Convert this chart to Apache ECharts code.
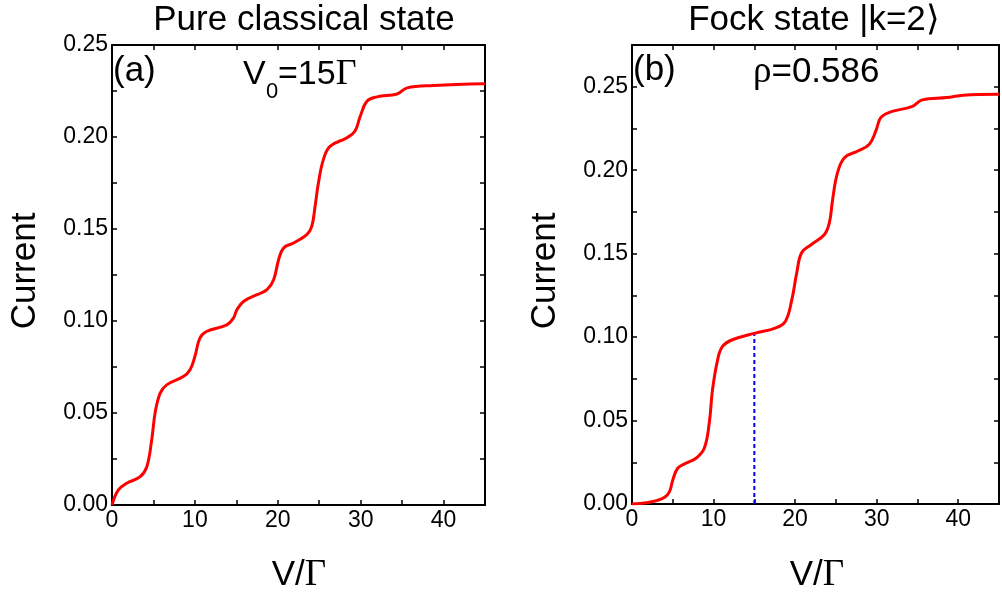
<!DOCTYPE html>
<html>
<head>
<meta charset="utf-8">
<script src="https://cdn.jsdelivr.net/npm/echarts@6/dist/echarts.min.js"></script>
<style>
  html, body { margin: 0; padding: 0; background: #fff; }
  #chart { width: 1002px; height: 595px; }
</style>
</head>
<body>
<div id="chart"></div>
<script>
// panel (a): pure classical state, V0 = 15 Gamma
var voltA = [0, 0.77, 1.77, 3.4, 4.2, 4.79, 5.2, 5.8, 6.6, 8.6, 9.4, 10.0, 10.6, 11.4, 13.85, 14.65, 15.06, 15.86, 17.5, 18.7, 19.5, 20.1, 20.7, 21.9, 23.5, 24.1, 24.5, 24.9, 25.5, 26.3, 28.3, 29.3, 29.95, 30.76, 31.97, 34.4, 35.6, 38.8, 45];
var currentA = [0, 0.0082, 0.0118, 0.0154, 0.0208, 0.0354, 0.05, 0.0607, 0.0653, 0.0698, 0.0734, 0.0807, 0.0907, 0.0943, 0.0979, 0.1016, 0.106, 0.1106, 0.1143, 0.117, 0.1224, 0.1333, 0.1397, 0.1424, 0.1469, 0.1514, 0.1623, 0.175, 0.1877, 0.1949, 0.1995, 0.2031, 0.2113, 0.2194, 0.2218, 0.2234, 0.2267, 0.228, 0.2289];

// panel (b): Fock state |k=2>, rho = 0.586
var voltB = [0, 1.78, 3.0, 4.0, 4.6, 5.0, 5.6, 6.6, 7.85, 8.86, 9.47, 9.87, 10.5, 11.1, 12.3, 15.1, 17.56, 18.8, 19.6, 20.2, 20.8, 22.0, 23.6, 24.2, 24.6, 25.2, 26.05, 27.7, 29.1, 29.9, 30.5, 31.7, 34.3, 35.6, 38.6, 40.6, 45];
var currentB = [0, 0.0008, 0.002, 0.004, 0.0074, 0.0144, 0.0214, 0.0244, 0.0274, 0.0334, 0.0484, 0.0684, 0.0864, 0.0944, 0.0984, 0.1024, 0.1054, 0.1094, 0.1224, 0.1385, 0.1505, 0.1555, 0.1615, 0.1685, 0.1825, 0.1985, 0.2075, 0.2115, 0.2155, 0.2235, 0.2315, 0.2349, 0.2381, 0.2421, 0.2435, 0.2449, 0.2455];

// blue dashed marker in panel (b)
var markerVolt = [15, 15];
var markerCurrent = [0, 0.102];

function zip(xs, ys) {
    return xs.map(function (x, i) { return [x, ys[i]]; });
}

var FONT = "'Liberation Sans', Arial, sans-serif";
var SERIF = "'Liberation Serif', 'Times New Roman', serif";

function xAx(grid, pos, showLabel) {
    return {
        gridIndex: grid, type: 'value', position: pos,
        min: 0, max: 45, interval: 5,
        axisLine: { onZero: false, lineStyle: { color: '#000', width: 2 } },
        axisTick: { inside: true, length: 5, lineStyle: { color: '#000', width: 1.5 } },
        axisLabel: {
            show: showLabel, color: '#000', fontSize: 23, fontFamily: FONT, margin: 4,
            formatter: function (v) { return Math.abs(v / 10 - Math.round(v / 10)) < 1e-6 ? String(Math.round(v)) : ''; }
        },
        splitLine: { show: false }
    };
}

function yAx(grid, pos, max, showLabel) {
    return {
        gridIndex: grid, type: 'value', position: pos,
        min: 0, max: max, interval: 0.025,
        axisLine: { onZero: false, lineStyle: { color: '#000', width: 2 } },
        axisTick: { inside: true, length: 5, lineStyle: { color: '#000', width: 1.5 } },
        axisLabel: {
            show: showLabel, color: '#000', fontSize: 23, fontFamily: FONT, margin: 4,
            formatter: function (v) { return Math.abs(v * 20 - Math.round(v * 20)) < 1e-6 ? v.toFixed(2) : ''; }
        },
        splitLine: { show: false }
    };
}

function label(text, x, y, size, align, extra) {
    var el = {
        type: 'text', x: x, y: y,
        style: {
            text: text, fill: '#000', font: size + 'px ' + FONT,
            textAlign: align || 'left', textVerticalAlign: 'middle',
            rich: {
                g: { fontFamily: SERIF, fontSize: size + 2, fill: '#000' },
                s: { fontFamily: FONT, fontSize: size, fill: '#000' }
            }
        }
    };
    if (extra) { for (var k in extra) el[k] = extra[k]; }
    return el;
}

var chart = echarts.init(document.getElementById('chart'));

var option = {
    backgroundColor: '#fff',
    animation: false,
    grid: [
        { left: 112, top: 45, width: 373, height: 460 },
        { left: 632, top: 45, width: 369, height: 459 }
    ],
    xAxis: [
        xAx(0, 'bottom', true),
        xAx(0, 'top', false),
        xAx(1, 'bottom', true),
        xAx(1, 'top', false)
    ],
    yAxis: [
        yAx(0, 'left', 0.25, true),
        yAx(0, 'right', 0.25, false),
        yAx(1, 'left', 0.275, true),
        yAx(1, 'right', 0.275, false)
    ],
    series: [
        {
            type: 'line', xAxisIndex: 0, yAxisIndex: 0,
            data: zip(voltA, currentA),
            showSymbol: false, smooth: 0.4,
            lineStyle: { color: '#ff0000', width: 3 }
        },
        {
            type: 'line', xAxisIndex: 2, yAxisIndex: 2,
            data: zip(markerVolt, markerCurrent),
            showSymbol: false,
            lineStyle: { color: '#0000ff', width: 2, type: [4, 3] }
        },
        {
            type: 'line', xAxisIndex: 2, yAxisIndex: 2,
            data: zip(voltB, currentB),
            showSymbol: false, smooth: 0.4,
            lineStyle: { color: '#ff0000', width: 3 }
        }
    ],
    graphic: [
        label('Pure classical state', 304, 20, 35, 'center'),
        label('Fock state |k=2\u27E9', 814, 20, 35, 'center'),
        label('Current', 25, 271, 35, 'center', { rotation: Math.PI / 2 }),
        label('Current', 545, 271, 35, 'center', { rotation: Math.PI / 2 }),
        label('{s|V/}{g|\u0393}', 299, 575, 35, 'center'),
        label('{s|V/}{g|\u0393}', 817, 575, 35, 'center'),
        label('(a)', 113, 71, 35, 'left'),
        label('V', 243, 75, 34, 'left'),
        label('0', 266, 92, 22, 'left'),
        label('{s|=15}{g|\u0393}', 278, 75, 34, 'left'),
        label('(b)', 633, 70, 35, 'left'),
        label('{g|\u03C1}{s|=0.586}', 753, 72, 35, 'left')
    ]
};

chart.setOption(option);
</script>
</body>
</html>
